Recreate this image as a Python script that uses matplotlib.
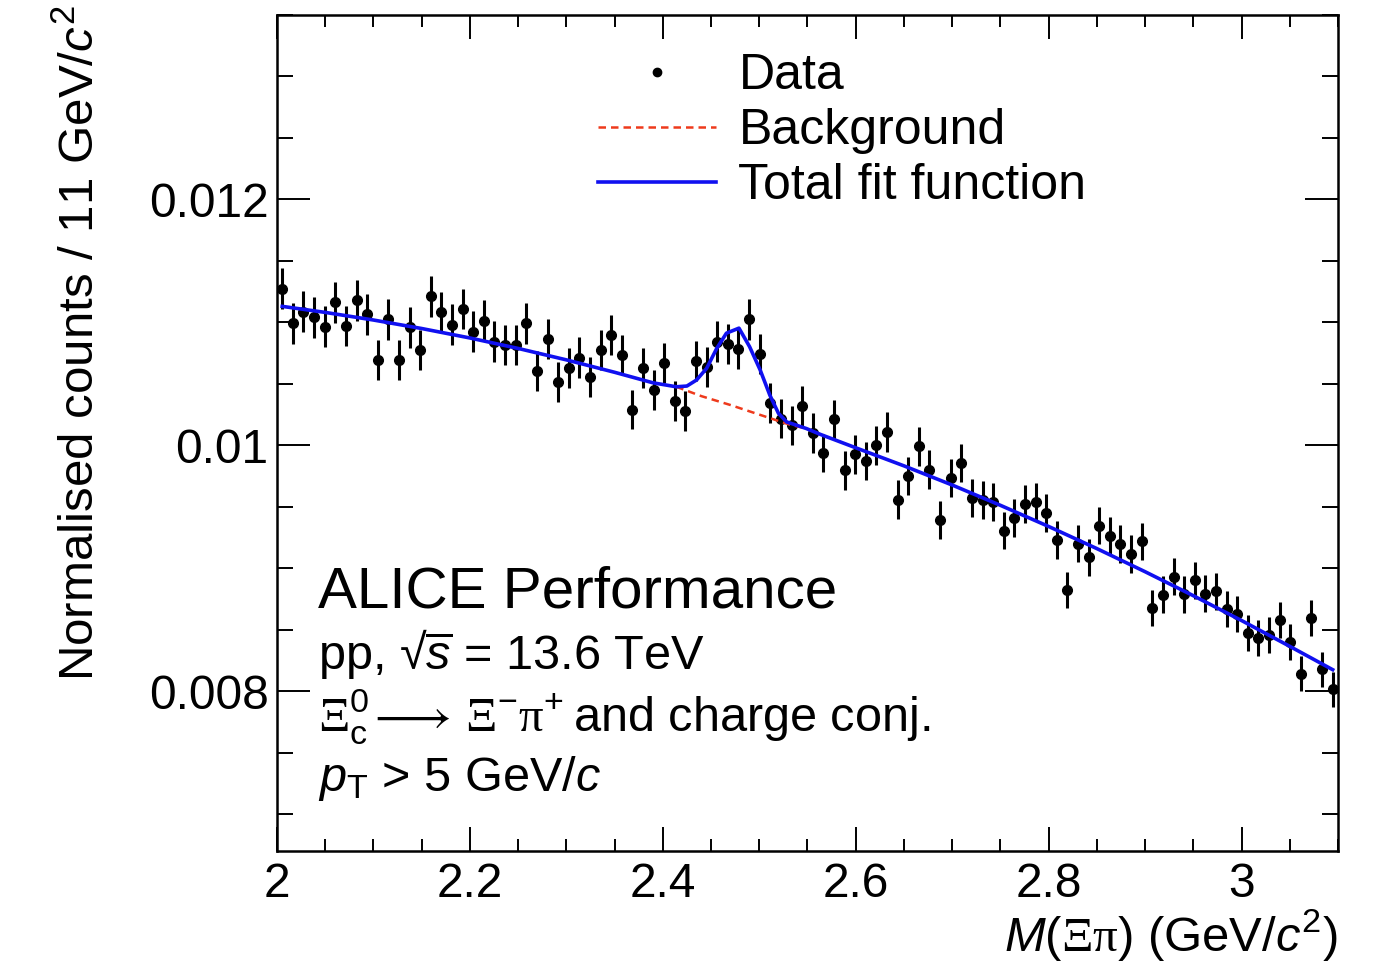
import numpy as np
import matplotlib
matplotlib.use('Agg')
import matplotlib.pyplot as plt
from matplotlib.lines import Line2D
from matplotlib.ticker import MultipleLocator, FixedLocator

# binning (11 MeV bins from 2.0 to 3.1 GeV)
bin_lo = 2.0
bin_width = 0.011
n_bins = 100
mass = bin_lo + bin_width * (np.arange(n_bins) + 0.5)

counts = [
    0.011273, 0.010993, 0.011088, 0.011042, 0.010966, 0.011162, 0.010971, 0.011178, 0.011067, 0.010694,
    0.011026, 0.010694, 0.010961, 0.010776, 0.011211, 0.011083, 0.010980, 0.011108, 0.010925, 0.011015,
    0.010843, 0.010816, 0.010816, 0.010993, 0.010607, 0.010863, 0.010512, 0.010631, 0.010713, 0.010558,
    0.010776, 0.010898, 0.010735, 0.010291, 0.010626, 0.010449, 0.010672, 0.010362, 0.010280, 0.010688,
    0.010634, 0.010843, 0.010824, 0.010781, 0.011026, 0.010743, 0.010345, 0.010218, 0.010163, 0.010318,
    0.010100, 0.009937, 0.010212, 0.009796, 0.009927, 0.009872, 0.010000, 0.010109, 0.009559, 0.009749,
    0.009992, 0.009802, 0.009393, 0.009736, 0.009856, 0.009573, 0.009557, 0.009537, 0.009306, 0.009410,
    0.009524, 0.009537, 0.009447, 0.009230, 0.008822, 0.009200, 0.009088, 0.009347, 0.009265, 0.009198,
    0.009116, 0.009219, 0.008675, 0.008784, 0.008931, 0.008789, 0.008904, 0.008794, 0.008811, 0.008667,
    0.008626, 0.008476, 0.008435, 0.008457, 0.008577, 0.008402, 0.008141, 0.008598, 0.008177, 0.008014,
]

errors = [
    0.000167, 0.000166, 0.000167, 0.000166, 0.000166, 0.000167, 0.000166, 0.000167, 0.000166, 0.000164,
    0.000166, 0.000164, 0.000166, 0.000165, 0.000167, 0.000166, 0.000166, 0.000166, 0.000165, 0.000166,
    0.000165, 0.000165, 0.000165, 0.000166, 0.000163, 0.000165, 0.000163, 0.000163, 0.000164, 0.000163,
    0.000165, 0.000165, 0.000164, 0.000161, 0.000163, 0.000162, 0.000164, 0.000162, 0.000161, 0.000164,
    0.000163, 0.000165, 0.000165, 0.000164, 0.000166, 0.000164, 0.000162, 0.000161, 0.000160, 0.000161,
    0.000160, 0.000158, 0.000160, 0.000157, 0.000158, 0.000158, 0.000159, 0.000160, 0.000155, 0.000157,
    0.000158, 0.000157, 0.000154, 0.000156, 0.000157, 0.000155, 0.000155, 0.000155, 0.000153, 0.000154,
    0.000155, 0.000155, 0.000154, 0.000152, 0.000149, 0.000152, 0.000151, 0.000153, 0.000152, 0.000152,
    0.000151, 0.000152, 0.000148, 0.000149, 0.000150, 0.000149, 0.000150, 0.000149, 0.000149, 0.000148,
    0.000147, 0.000146, 0.000146, 0.000146, 0.000147, 0.000145, 0.000143, 0.000147, 0.000143, 0.000142,
]

# total fit function
fit_x = [2.0055, 2.05, 2.10, 2.15, 2.20, 2.25, 2.30, 2.35, 2.39, 2.414, 2.425, 2.435,
         2.4455, 2.456, 2.466, 2.479, 2.490, 2.501, 2.511, 2.520, 2.5285, 2.549, 2.563,
         2.60, 2.65, 2.70, 2.75, 2.80, 2.85, 2.90, 2.95, 3.00, 3.05, 3.0945]
fit_y = [0.011130, 0.011081, 0.011019, 0.010950, 0.010873, 0.010788, 0.010695, 0.010594,
         0.010508, 0.010476, 0.010482, 0.010531, 0.010626, 0.010789, 0.010912, 0.010953,
         0.010802, 0.010612, 0.010408, 0.010259, 0.010190, 0.010136, 0.010090, 0.009980,
         0.009833, 0.009677, 0.009512, 0.009340, 0.009160, 0.008972, 0.008777, 0.008575,
         0.008365, 0.008175]

# background under the peak
bkg_x = [2.414, 2.44, 2.47, 2.50, 2.53, 2.549]
bkg_y = [0.010476, 0.010400, 0.010328, 0.010250, 0.010172, 0.010136]

xticks = [2.0, 2.2, 2.4, 2.6, 2.8, 3.0]
xtick_labels = ['2', '2.2', '2.4', '2.6', '2.8', '3']
yticks = [0.008, 0.010, 0.012]
ytick_labels = ['0.008', '0.01', '0.012']

blue = '#1010f0'
red = '#ee3a1c'

plt.rcParams['font.family'] = ['Liberation Sans', 'DejaVu Sans']
plt.rcParams['mathtext.fontset'] = 'custom'
plt.rcParams['mathtext.rm'] = 'Liberation Sans'
plt.rcParams['mathtext.it'] = 'Liberation Sans:italic'
plt.rcParams['mathtext.bf'] = 'Liberation Sans:bold'
plt.rcParams['mathtext.sf'] = 'Liberation Serif'
plt.rcParams['mathtext.fallback'] = 'stixsans'

fig = plt.figure(figsize=(13.73, 9.66), dpi=100)
ax = fig.add_axes([0.2017, 0.119, 0.7728, 0.8655])

ax.errorbar(mass, counts, yerr=errors, fmt='o', color='k', ms=7,
            elinewidth=2.2, capsize=0, zorder=2)
ax.plot(bkg_x, bkg_y, color=red, lw=1.8, dashes=(3, 2), zorder=3)
ax.plot(fit_x, fit_y, color=blue, lw=2.6, zorder=4)

ax.set_xlim(2.0, 3.1)
ax.set_ylim(0.0067, 0.0135)

ax.xaxis.set_major_locator(FixedLocator(xticks))
ax.set_xticklabels(xtick_labels)
ax.xaxis.set_minor_locator(MultipleLocator(0.05))
ax.yaxis.set_major_locator(FixedLocator(yticks))
ax.set_yticklabels(ytick_labels)
ax.yaxis.set_minor_locator(MultipleLocator(0.0005))

ax.tick_params(axis='both', which='both', direction='in', top=True, right=True,
               labelsize=34.5, width=1.4)
ax.tick_params(axis='x', which='major', length=17, pad=8)
ax.tick_params(axis='x', which='minor', length=8.5)
ax.tick_params(axis='y', which='major', length=23.5, pad=6)
ax.tick_params(axis='y', which='minor', length=11.5)
for s in ax.spines.values():
    s.set_linewidth(1.8)

ax.set_xlabel(r'$\mathit{M}(\mathsf{\Xi\pi})$ (GeV/$\mathit{c}^{2}$)', fontsize=35.3, loc='right')
ax.xaxis.label.set_va('baseline')
ax.xaxis.set_label_coords(1.0, -0.12)
ax.set_ylabel(r'Normalised counts / 11 GeV/$\mathit{c}^{2}$', fontsize=35.5, loc='top')
ax.yaxis.set_label_coords(-0.163, 1.012)

tr = ax.transAxes
ax.text(0.0386, 0.291, 'ALICE Performance', fontsize=42, transform=tr, va='baseline')
ax.text(0.0386, 0.218, r'pp, √$\overline{s}$ = 13.6 TeV', fontsize=35, transform=tr, va='baseline')
ax.text(0.0386, 0.1437,
        r'$\mathsf{\Xi}_{\rm c}^{0}\hspace{-0.1}\longrightarrow\,\mathsf{\Xi}^{-}\mathsf{\pi}^{+}\hspace{-0.12}$ and charge conj.',
        fontsize=35, transform=tr, va='baseline')
ax.text(0.0386, 0.0719, r'$p_{\rm T}$ > 5 GeV/$c$', fontsize=35, transform=tr, va='baseline')

handles = [Line2D([], [], ls='none', marker='o', ms=6, color='k'),
           Line2D([], [], color=red, lw=1.8, dashes=(3, 2)),
           Line2D([], [], color=blue, lw=2.6)]
labels = ['Data', 'Background', 'Total fit function']
ax.legend(handles, labels, loc='upper left', bbox_to_anchor=(0.303, 0.954),
          frameon=False, fontsize=36, handlelength=2.35, handletextpad=0.45,
          labelspacing=0.18, borderpad=0, borderaxespad=0)

fig.savefig('out.png', dpi=100)
